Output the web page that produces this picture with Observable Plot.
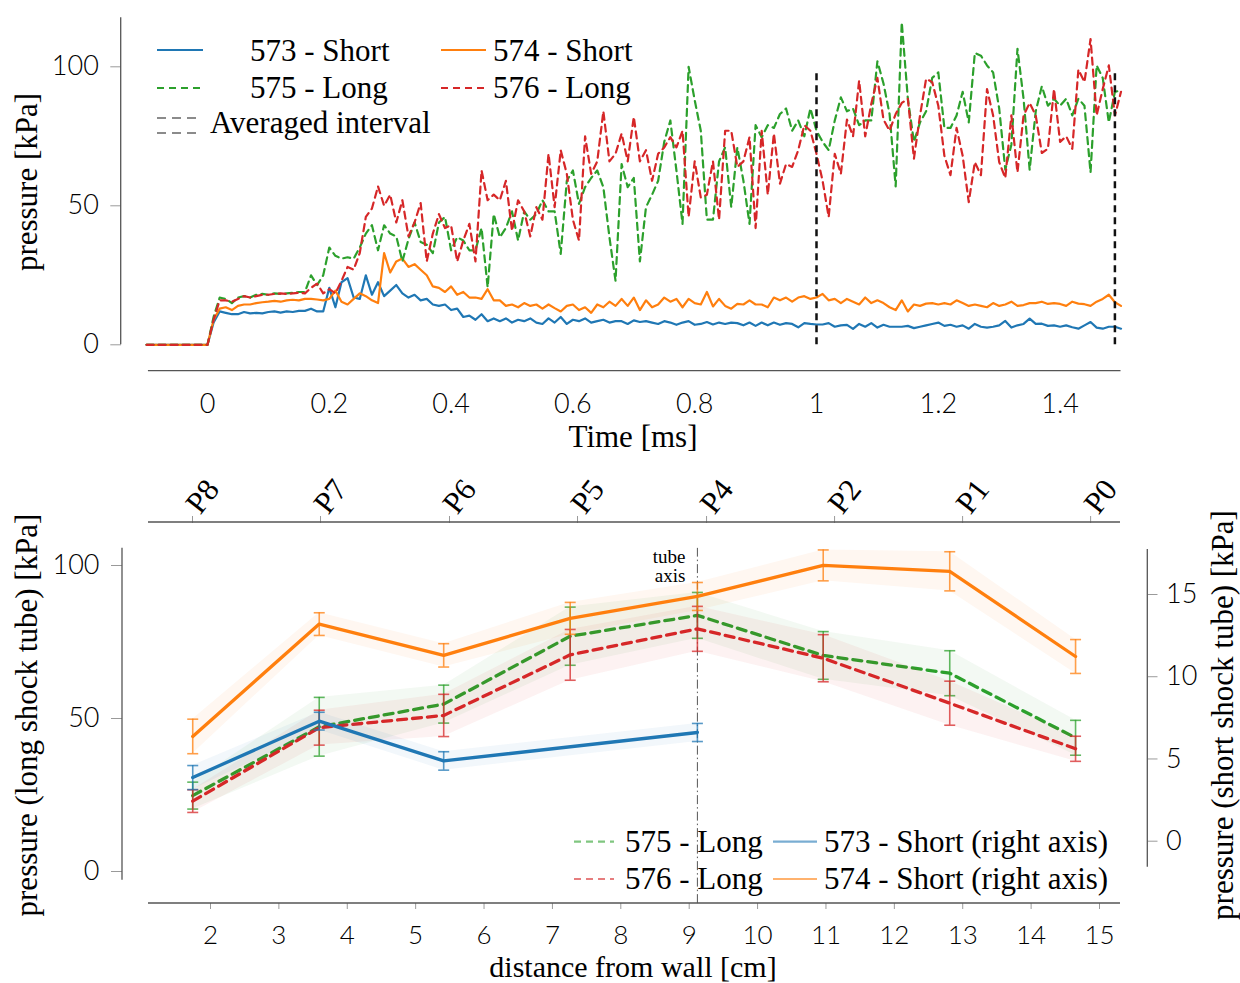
<!DOCTYPE html>
<html>
<head>
<meta charset="utf-8">
<script src="https://cdn.jsdelivr.net/npm/d3@7"></script>
<script src="https://cdn.jsdelivr.net/npm/@observablehq/plot@0.6"></script>
<style>
  html, body { margin: 0; padding: 0; background: #fff; }
  #chart { position: relative; width: 1240px; height: 983px; overflow: hidden; }
  #chart svg { position: absolute; left: 0; top: 0; }
</style>
</head>
<body>
<div id="chart"></div>
<script>
// ================= DATA =================
// --- top panel: pressure traces, sampled every 0.01 ms from t = 0 ---
const preTriggerTime = -0.1;   // traces are flat before the trigger
const preTriggerValue = 0;
const timeStepMs = 0.01;

const trace573 = [
  0, 8, 12, 11.5, 11, 11, 11.8, 11.3, 11.5, 11.3,
  11.8, 12, 11.6, 12, 11.8, 12.2, 12.2, 13, 12, 12,
  20.5, 13.5, 22.5, 24, 17, 16.5, 25, 18, 22.5, 17.5,
  19.5, 21.5, 18.5, 17, 18, 16, 16.5, 14.5, 14, 14.5,
  12.5, 13, 10, 10.5, 9, 11, 8.5, 9.5, 8.5, 9.5,
  8, 9, 8.5, 9.5, 8, 7.5, 9.5, 8, 10, 7.5,
  9, 8.5, 9.5, 8, 8.5, 9, 8, 8.5, 8.5, 7.5,
  8.8, 8.2, 8.5, 8, 7.5, 8.5, 8, 7.2, 8, 8.5,
  7.2, 7.5, 8.2, 7.3, 8, 7.5, 8, 7.8, 7, 8,
  6.8, 8, 7, 8, 7.2, 7.8, 7.5, 6.3, 7.8, 7.5,
  7.3, 7.3, 7.8, 6.5, 7, 7.2, 5.7, 7.5, 6.5, 7.8,
  6.2, 7.2, 6.5, 6.5, 6.5, 6.8, 6, 6.5, 7, 7.5,
  8, 6.8, 7.2, 6.5, 7, 5.8, 7.5, 6.5, 6.2, 6.5,
  7, 8.6, 6.2, 7, 7.5, 9.4, 7.5, 7.6, 6.8, 7,
  6.5, 7, 6.3, 5.8, 7, 8.2, 6.2, 5.8, 6.5, 6.5,
  5.8
];
const trace574 = [
  0, 9, 13, 13.5, 12.5, 14, 14.5, 14.5, 15, 15.3,
  15.5, 15.8, 15.5, 16, 16.2, 16, 16.5, 16.5, 16.3, 16,
  16.5, 19.5, 15.5, 14.5, 16.5, 18.5, 17.5, 16, 15, 33,
  26, 30, 31, 28, 29, 27, 25, 21, 20.5, 19,
  21, 18, 19, 17, 17, 16.5, 20, 16, 16, 14,
  14.5, 13.5, 15, 14, 14.5, 13, 14.5, 13.2, 12, 14,
  14.5, 12.5, 13.5, 11.5, 14.5, 13.5, 15.5, 14, 16.5, 14,
  17, 12.5, 16, 13.5, 14.5, 17, 15.5, 16.5, 13.5, 16.5,
  15, 14.5, 19, 13.8, 16.5, 14, 13, 14.7, 14.5, 16,
  14.5, 14.5, 13.5, 17, 16, 17, 15.5, 17, 17.5, 16.5,
  17, 18.3, 16, 16.5, 15, 16.5, 15.5, 14.5, 17, 15,
  16, 15, 13.5, 12.5, 16, 12, 14.5, 14, 14.8, 15,
  14.5, 15, 14.5, 16, 15, 14, 14.5, 14, 13.5, 15,
  14, 14.5, 15.5, 14, 14.3, 15, 15, 15.5, 14.7, 15,
  14.7, 14, 15.5, 14.8, 14.6, 14, 15.5, 16.5, 18, 15.3,
  14
];
const trace575 = [
  0, 10, 17, 16.5, 15, 17, 17.5, 17, 18, 18.3,
  18, 18.5, 18.3, 18.5, 18.7, 19, 19, 25, 21.5, 25,
  35, 32, 31, 31.5, 31, 35, 40, 43, 34, 43,
  40, 39, 30, 38, 44, 37, 36, 33, 44, 46,
  34, 38.7, 37.5, 34, 34, 42, 20.7, 47, 38.7, 42,
  48, 37.5, 48, 45, 47, 52, 48, 48, 32.7, 59,
  62.7, 50.7, 56.7, 60, 62.7, 56.7, 38.7, 23, 65, 56.7,
  60, 30, 49.5, 54, 59, 73, 80.7, 62.7, 43.5, 100,
  88, 77, 45, 45, 66, 71, 49.5, 71, 59, 43.5,
  79, 74.7, 79, 78, 83, 85, 77, 80.7, 75, 85,
  77, 73, 70, 80.7, 89, 84, 85, 79, 80.7, 80.7,
  102, 94, 83, 57, 116, 88.5, 73, 80, 84, 96,
  98, 78, 78, 82.5, 91, 80, 105, 104, 100.5, 98,
  85, 63, 72, 106.5, 88.5, 63, 84, 93, 86, 88.5,
  86, 88.5, 82.5, 88.5, 86, 62, 100.5, 96, 80, 91,
  91.5
];
const trace576 = [
  0, 9, 16, 16, 15.5, 16.5, 17.5, 17, 17.5, 18,
  18, 18.3, 18.5, 18.3, 18.5, 18.7, 18.5, 20.5, 22, 18.5,
  20, 18.5, 23, 28, 27, 33, 46, 49, 57, 50,
  54, 44, 52, 39, 44, 51, 30, 40, 47, 42,
  43, 30, 37.5, 43.5, 30, 62.7, 52, 54, 52, 59,
  41, 52, 48, 39, 49.5, 45, 68.7, 49.5, 70, 61.5,
  45, 37.5, 75, 61.5, 66, 84, 66, 68.7, 76, 66,
  82, 66, 70, 59, 68.7, 71, 74.7, 71, 77, 46,
  66, 53, 54, 66, 45, 77, 77, 64, 66, 74.7,
  42, 77, 54, 76, 58, 65, 64, 70, 79, 77,
  68.7, 59, 46, 68.7, 61.5, 81, 75, 95, 75, 86.7,
  96, 81, 77, 83, 87, 88.5, 67, 82.5, 95.7, 94.5,
  86, 68, 61, 78, 68, 51.3, 65.7, 61, 92, 82.5,
  65.7, 60, 82.5, 62, 82.5, 87, 82.5, 69, 70.5, 92,
  73, 75, 70.5, 99, 94.5, 110, 82.5, 92, 100.5, 82.5,
  91
];
const avgIntervalBounds = [1.0, 1.49];      // ms
const avgIntervalSpan = [0, 98];            // kPa extent of the marker lines
const topXTicks = [0, 0.2, 0.4, 0.6, 0.8, 1, 1.2, 1.4];
const topYTicks = [0, 50, 100];
const topXSpan = [-0.097, 1.5];
const topYSpan = [0, 117.6];

// --- bottom panel: mean pressure per sensor ---
const sensorLabels = ["P8", "P7", "P6", "P5", "P4", "P2", "P1", "P0"];
const sensorDistance = [1.74, 3.59, 5.41, 7.26, 9.12, 10.96, 12.81, 14.65]; // cm
const sensorTickPos = [1.737, 3.609, 5.495, 7.367, 9.254, 11.126, 12.998, 14.87]; // top axis ticks (cm)
const tubeAxisDistance = 9.12;
const tubeAxisSpan = [-10.5, 105.6];
const tubeAxisLabelLevel = 99.7;

// long shock tube (left axis, kPa)
const mean575 = [24.8, 47.3, 54.7, 76.9, 83.7, 70.6, 64.8, 43.7];
const err575  = [4.4, 9.6, 6.2, 9.5, 7.5, 7.8, 7.35, 5.7];
const mean576 = [23.0, 47.0, 51.0, 70.8, 79.3, 69.7, 55.0, 40.1];
const err576  = [3.7, 5.7, 6.9, 8.3, 7.35, 7.7, 7.2, 4.1];
// short shock tube (right axis, kPa)
const mean573 = [3.87, 7.3, 4.88, null, 6.61, null, null, null];
const err573  = [0.73, 0.54, 0.56, null, 0.55, null, null, null];
const mean574 = [6.37, 13.2, 11.3, 13.55, 14.88, 16.77, 16.41, 11.23];
const err574  = [1.05, 0.69, 0.71, 0.97, 0.85, 0.94, 1.19, 1.03];

const bottomXTicks = [2, 3, 4, 5, 6, 7, 8, 9, 10, 11, 12, 13, 14, 15];
const bottomXSpan = [1.093, 15.307];
const leftYTicks = [0, 50, 100];
const leftYSpan = [-2.9, 105.6];
const rightYTicks = [0, 5, 10, 15];
const rightYSpan = [-1.58, 17.74];

// ================= STYLE =================
const SERIF = "'Liberation Serif', 'Times New Roman', serif";
const SANS = "Lato, 'Open Sans', sans-serif";
const COLOR = {s573: "#1f77b4", s574: "#ff7f0e", s575: "#2ca02c", s576: "#d62728"};
const SPINE = "#555";
const TICK = "#9a9a9a";
const W = 1240, H = 983;

// ================= BUILD ROWS =================
function traceRows(values) {
  return [{t: preTriggerTime, v: preTriggerValue},
          ...values.map((v, i) => ({t: +(i * timeStepMs).toFixed(2), v}))];
}
function sensorRows(mean, err) {
  return sensorDistance
    .map((x, i) => ({x, y: mean[i], lo: mean[i] == null ? null : mean[i] - err[i], hi: mean[i] == null ? null : mean[i] + err[i]}))
    .filter(d => d.y != null);
}
const capSymbol = {
  draw(ctx, size) { const r = Math.sqrt(size / Math.PI); ctx.moveTo(-r, 0); ctx.lineTo(r, 0); }
};

const root = document.getElementById("chart");

// ================= TOP PANEL =================
const topPlot = Plot.plot({
  width: W, height: H,
  marginLeft: 121, marginRight: 120, marginTop: 16, marginBottom: H - 371,
  x: {domain: [0, 1], range: [207, 816]},
  y: {domain: [0, 100], range: [344.3, 66.3]},
  style: {background: "transparent", fontFamily: SANS, fontSize: "27px", color: "#000", overflow: "visible"},
  marks: [
    Plot.line(traceRows(trace573), {x: "t", y: "v", stroke: COLOR.s573, strokeWidth: 2.2}),
    Plot.line(traceRows(trace574), {x: "t", y: "v", stroke: COLOR.s574, strokeWidth: 2.2}),
    Plot.line(traceRows(trace575), {x: "t", y: "v", stroke: COLOR.s575, strokeWidth: 2.2, strokeDasharray: "7,5"}),
    Plot.line(traceRows(trace576), {x: "t", y: "v", stroke: COLOR.s576, strokeWidth: 2.2, strokeDasharray: "7,5"}),
    Plot.ruleX(avgIntervalBounds, {x: d => d, y1: avgIntervalSpan[0], y2: avgIntervalSpan[1], stroke: "#111", strokeWidth: 2.5, strokeDasharray: "7,5"}),
    Plot.axisY({ticks: topYTicks, tickSize: 10.7, tickPadding: 12, stroke: TICK, label: null, fontSize: 27, fontWeight: 300, fontFamily: SANS}),
    Plot.axisX({ticks: topXTicks, tickFormat: d => String(d), tickSize: 0, tickPadding: 22, label: null, fontSize: 27, fontWeight: 300, fontFamily: SANS})
  ]
});
root.appendChild(topPlot);
{
  const sx = topPlot.scale("x"), sy = topPlot.scale("y");
  const svg = d3.select(topPlot);
  svg.append("line").attr("x1", 120.7).attr("x2", 120.7)
    .attr("y1", sy.apply(topYSpan[0])).attr("y2", sy.apply(topYSpan[1]))
    .attr("stroke", SPINE).attr("stroke-width", 1.3);
  svg.append("line").attr("y1", 370.7).attr("y2", 370.7)
    .attr("x1", sx.apply(topXSpan[0])).attr("x2", sx.apply(topXSpan[1]))
    .attr("stroke", SPINE).attr("stroke-width", 1.3);
}

// ================= BOTTOM PANEL: long tube (left axis) =================
const rows575 = sensorRows(mean575, err575);
const rows576 = sensorRows(mean576, err576);
const rows573 = sensorRows(mean573, err573);
const rows574 = sensorRows(mean574, err574);

function seriesMarks(rows, color, dash) {
  return [
    Plot.areaY(rows, {x: "x", y1: "lo", y2: "hi", fill: color, fillOpacity: 0.06}),
    Plot.ruleX(rows, {x: "x", y1: "lo", y2: "hi", stroke: color, strokeOpacity: 0.75, strokeWidth: 1.6}),
    Plot.dot(rows, {x: "x", y: "lo", symbol: capSymbol, r: 5.5, fill: "none", stroke: color, strokeOpacity: 0.75, strokeWidth: 1.6}),
    Plot.dot(rows, {x: "x", y: "hi", symbol: capSymbol, r: 5.5, fill: "none", stroke: color, strokeOpacity: 0.75, strokeWidth: 1.6}),
    Plot.line(rows, {x: "x", y: "y", stroke: color, strokeWidth: 3.3, strokeDasharray: dash})
  ];
}

const bottomLong = Plot.plot({
  width: W, height: H,
  marginLeft: 122, marginRight: 93, marginTop: 522, marginBottom: H - 903,
  x: {domain: [2, 15], range: [210, 1099]},
  y: {domain: [0, 100], range: [871, 565]},
  style: {background: "transparent", fontFamily: SANS, fontSize: "27px", color: "#000", overflow: "visible"},
  marks: [
    Plot.ruleX([tubeAxisDistance], {x: d => d, y1: tubeAxisSpan[0], y2: tubeAxisSpan[1], stroke: "#555", strokeWidth: 1, strokeDasharray: "9,3,1.5,3"}),
    Plot.text(["tube\naxis"], {x: tubeAxisDistance, y: tubeAxisLabelLevel, text: d => d, textAnchor: "end", dx: -12, fontFamily: SERIF, fontSize: 19, lineHeight: 1.0}),
    ...seriesMarks(rows575, COLOR.s575, "9,6"),
    ...seriesMarks(rows576, COLOR.s576, "9,6"),
    Plot.axisY({ticks: leftYTicks, tickSize: 11, tickPadding: 12, stroke: TICK, label: null, fontSize: 27, fontWeight: 300, fontFamily: SANS}),
    Plot.axisX({ticks: bottomXTicks, tickFormat: d => String(d), tickSize: 6, tickPadding: 16, stroke: TICK, label: null, fontSize: 26, fontWeight: 300, fontFamily: SANS}),
    Plot.axisX({anchor: "top", ticks: sensorTickPos, tickFormat: d => sensorLabels[sensorTickPos.indexOf(d)], tickSize: 7, tickPadding: 6, tickRotate: -52, textAnchor: "start", stroke: TICK, label: null, fontSize: 31, fontFamily: SERIF})
  ]
});
root.appendChild(bottomLong);
{
  const sx = bottomLong.scale("x"), sy = bottomLong.scale("y");
  const svg = d3.select(bottomLong);
  svg.append("line").attr("x1", 122).attr("x2", 122)
    .attr("y1", sy.apply(leftYSpan[0])).attr("y2", sy.apply(leftYSpan[1]))
    .attr("stroke", SPINE).attr("stroke-width", 1.3);
  for (const yy of [522, 903]) {
    svg.append("line").attr("y1", yy).attr("y2", yy)
      .attr("x1", sx.apply(bottomXSpan[0])).attr("x2", sx.apply(bottomXSpan[1]))
      .attr("stroke", SPINE).attr("stroke-width", 1.3);
  }
}

// ================= BOTTOM PANEL: short tube (right axis) =================
const bottomShort = Plot.plot({
  width: W, height: H,
  marginLeft: 122, marginRight: 93, marginTop: 522, marginBottom: H - 903,
  x: {domain: [2, 15], range: [210, 1099]},
  y: {domain: [0, 15], range: [840.7, 594]},
  style: {background: "transparent", fontFamily: SANS, fontSize: "27px", color: "#000", overflow: "visible"},
  marks: [
    ...seriesMarks(rows573, COLOR.s573, null),
    ...seriesMarks(rows574, COLOR.s574, null),
    Plot.axisY({anchor: "right", ticks: rightYTicks, tickSize: 9.5, tickPadding: 9, stroke: TICK, label: null, fontSize: 27, fontWeight: 300, fontFamily: SANS}),
    Plot.axisX({ticks: [], label: null})
  ]
});
root.appendChild(bottomShort);
{
  const sy = bottomShort.scale("y");
  d3.select(bottomShort).append("line").attr("x1", 1147.3).attr("x2", 1147.3)
    .attr("y1", sy.apply(rightYSpan[0])).attr("y2", sy.apply(rightYSpan[1]))
    .attr("stroke", SPINE).attr("stroke-width", 1.3);
}

// ================= LEGENDS & TITLES =================
const ann = d3.create("svg").attr("width", W).attr("height", H);
function txt(x, y, s, opts = {}) {
  const t = ann.append("text").attr("x", x).attr("y", y).text(s)
    .attr("font-family", SERIF).attr("font-size", opts.size || 31)
    .attr("text-anchor", opts.anchor || "start").attr("fill", "#000");
  if (opts.rotate) t.attr("transform", `rotate(${opts.rotate},${x},${y})`);
  return t;
}
function sample(x1, x2, y, color, dash, opacity = 1, width = 2.2) {
  ann.append("line").attr("x1", x1).attr("x2", x2).attr("y1", y).attr("y2", y)
    .attr("stroke", color).attr("stroke-width", width).attr("stroke-opacity", opacity)
    .attr("stroke-dasharray", dash || null);
}
// top legend
sample(157, 203, 50, COLOR.s573, null);
txt(250, 60.5, "573 - Short");
sample(441, 486, 50, COLOR.s574, null);
txt(493, 60.5, "574 - Short");
sample(157, 203, 88, COLOR.s575, "7,5");
txt(250, 98, "575 - Long");
sample(441, 486, 88, COLOR.s576, "7,5");
txt(493, 98, "576 - Long");
sample(157, 197, 118, "#666", "9,6", 1, 1.3);
sample(157, 197, 133, "#666", "9,6", 1, 1.3);
txt(210, 133, "Averaged interval");
// top axis titles
txt(633, 447, "Time [ms]", {anchor: "middle"});
txt(37, 182, "pressure [kPa]", {anchor: "middle", rotate: -90});
// bottom legend
sample(574, 614, 841.7, COLOR.s575, "7,5", 0.6, 2.2);
txt(625, 852, "575 - Long");
sample(773, 817, 841.7, COLOR.s573, null, 0.6, 2.2);
txt(824, 852, "573 - Short (right axis)");
sample(574, 614, 879, COLOR.s576, "7,5", 0.6, 2.2);
txt(625, 889, "576 - Long");
sample(773, 817, 879, COLOR.s574, null, 0.6, 2.2);
txt(824, 889, "574 - Short (right axis)");
// bottom axis titles
txt(633, 977, "distance from wall [cm]", {anchor: "middle", size: 30});
txt(37, 715, "pressure (long shock tube) [kPa]", {anchor: "middle", rotate: -90});
txt(1233, 715, "pressure (short shock tube) [kPa]", {anchor: "middle", rotate: -90});
root.appendChild(ann.node());
</script>
</body>
</html>
